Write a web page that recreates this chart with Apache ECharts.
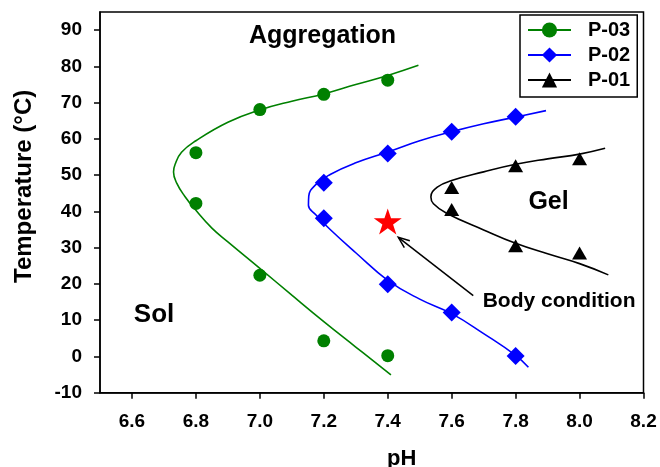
<!DOCTYPE html>
<html><head><meta charset="utf-8">
<script src="https://cdn.jsdelivr.net/npm/echarts@6/dist/echarts.min.js"></script>
<style>html,body{margin:0;padding:0;background:#fff}#c{width:660px;height:467px}</style>
</head><body><div id="c"></div>
<script>
// ---- data ----
const xTicks = [6.6, 6.8, 7.0, 7.2, 7.4, 7.6, 7.8, 8.0, 8.2];
const yTicks = [-10, 0, 10, 20, 30, 40, 50, 60, 70, 80, 90];

// measured points [pH, T]
const p03Points = [[6.8, 56.2], [6.8, 42.2], [7.0, 68.1], [7.2, 72.3], [7.4, 76.2], [7.0, 22.4], [7.2, 4.3], [7.4, 0.2]];
const p02Points = [[7.2, 47.9], [7.2, 38.1], [7.4, 56.0], [7.6, 62.0], [7.8, 66.1], [7.4, 19.9], [7.6, 12.1], [7.8, 0.1]];
const p01Points = [[7.6, 46.6], [7.6, 40.5], [7.8, 52.6], [8.0, 54.5], [7.8, 30.5], [8.0, 28.5]];

// fitted boundary curves [pH, T]
const p03Curve = [[7.496, 80.3], [7.4, 77.5], [7.3, 75.0], [7.2, 72.4], [7.1, 70.4], [7.0, 68.0], [6.9, 64.6], [6.8, 59.5], [6.755, 56.3], [6.735, 53.0], [6.73, 50.9], [6.74, 47.8], [6.765, 44.2], [6.8, 40.3], [6.85, 35.4], [6.9, 31.6], [7.0, 24.3], [7.1, 16.9], [7.2, 9.6], [7.3, 2.6], [7.41, -5.1]];
const p02Curve = [[7.895, 67.8], [7.8, 66.0], [7.7, 64.2], [7.6, 62.0], [7.5, 59.5], [7.4, 56.4], [7.3, 53.4], [7.22, 50.2], [7.175, 47.4], [7.153, 44.2], [7.152, 41.7], [7.175, 39.1], [7.22, 35.0], [7.3, 28.6], [7.4, 21.0], [7.5, 15.8], [7.6, 11.8], [7.7, 6.3], [7.8, 0.3], [7.84, -3.0]];
const p01Curve = [[8.08, 57.4], [8.0, 55.8], [7.9, 54.5], [7.8, 53.0], [7.7, 50.9], [7.6, 48.5], [7.555, 46.7], [7.535, 44.0], [7.543, 42.1], [7.584, 39.5], [7.7, 34.9], [7.8, 31.2], [7.9, 28.3], [8.0, 25.6], [8.09, 22.5]];

const bodyCondition = [[7.4, 37.25]];
const arrow = [[7.6675, 16.75, 7.433, 32.85]];   // from [pH,T] to [pH,T]
const annotationTexts = ['Aggregation', 'Sol', 'Gel', 'Body condition'];
const annotationAt = [[7.196, 88.4], [6.669, 11.6], [7.903, 42.6], [7.936, 15.3]];

// ---- chart ----
const FONT = "'Liberation Sans', Arial, sans-serif";
const annSizes = [25, 26, 25, 21];
const starPath = 'path://M50 0 L61.23 34.55 L97.55 34.55 L68.16 55.9 L79.39 90.45 L50 69.1 L20.61 90.45 L31.84 55.9 L2.45 34.55 L38.77 34.55 Z';

const chart = echarts.init(document.getElementById('c'), null, {renderer: 'canvas'});

function curveSeries(name, data, color, symbol) {
  return {
    name, type: 'line', data, smooth: 0.45, symbol, showSymbol: false,
    lineStyle: {color, width: 1.6}, itemStyle: {color, opacity: 1}, z: 2, silent: true
  };
}
function pointSeries(name, data, color, symbol, size) {
  return {
    name, type: 'scatter', data, symbol, symbolSize: size,
    itemStyle: {color, opacity: 1}, z: 3, silent: true
  };
}

chart.setOption({
  animation: false,
  textStyle: {fontFamily: FONT},
  grid: {left: 100, right: 16.5, top: 12, bottom: 74.3, outerBoundsMode: 'none', containLabel: false,
         show: true, borderColor: '#000', borderWidth: 1.5, backgroundColor: 'transparent'},
  legend: {
    data: ['P-03', 'P-02', 'P-01'],
    orient: 'vertical', left: 520, top: 15,
    itemWidth: 43, itemHeight: 19, itemGap: 5,
    padding: [5, 7, 7, 7],
    borderColor: '#000', borderWidth: 1.5, backgroundColor: '#fff',
    textStyle: {fontFamily: FONT, fontWeight: 'bold', fontSize: 20, color: '#000', lineHeight: 20, padding: [0, 0, 0, 12]},
    selectedMode: false
  },
  xAxis: {
    type: 'value', min: 6.5, max: 8.2,
    name: 'pH', nameLocation: 'middle', nameGap: 55,
    nameTextStyle: {fontFamily: FONT, fontWeight: 'bold', fontSize: 22, color: '#000', padding: [0, 0, 0, 60]},
    axisLine: {show: true, onZero: false, lineStyle: {color: '#000', width: 1.5}},
    axisTick: {show: true, inside: false, length: 6, customValues: xTicks, lineStyle: {color: '#000', width: 1.5}},
    axisLabel: {customValues: xTicks, margin: 20, fontFamily: FONT, fontWeight: 'bold', fontSize: 19, color: '#000', formatter: v => Number(v).toFixed(1)},
    splitLine: {show: false}
  },
  yAxis: {
    type: 'value', min: -10, max: 95, interval: 10,
    name: 'Temperature (\u00B0C)', nameLocation: 'middle', nameGap: 64, nameRotate: 90,
    nameTextStyle: {fontFamily: FONT, fontWeight: 'bold', fontSize: 24, color: '#000', padding: [0, 0, 0, 32]},
    axisLine: {show: true, onZero: false, lineStyle: {color: '#000', width: 1.5}},
    axisTick: {show: true, inside: false, length: 6, customValues: yTicks, lineStyle: {color: '#000', width: 1.5}},
    axisLabel: {customValues: yTicks, margin: 18, fontFamily: FONT, fontWeight: 'bold', fontSize: 19, color: '#000', formatter: v => (v > 90 ? '' : String(v))},
    splitLine: {show: false}
  },
  series: [
    curveSeries('P-03', p03Curve, '#008000', 'circle'),
    curveSeries('P-02', p02Curve, '#0000FF', 'diamond'),
    curveSeries('P-01', p01Curve, '#000000', 'triangle'),
    pointSeries('P-03', p03Points, '#008000', 'circle', 13),
    pointSeries('P-02', p02Points, '#0000FF', 'diamond', 18),
    pointSeries('P-01', p01Points, '#000000', 'triangle', [15, 13]),
    {
      name: 'body', type: 'scatter', data: bodyCondition, symbol: starPath, symbolSize: [28, 26],
      itemStyle: {color: '#FF0000', opacity: 1}, z: 4, silent: true
    },
    {
      name: 'arrow', type: 'custom', data: arrow, silent: true, z: 4,
      encode: {x: [0, 2], y: [1, 3]},
      renderItem: function (params, api) {
        const a = api.coord([api.value(0), api.value(1)]);
        const b = api.coord([api.value(2), api.value(3)]);
        const ang = Math.atan2(b[1] - a[1], b[0] - a[0]);
        const L = 12, w = 0.38;
        const h1 = [b[0] - L * Math.cos(ang - w), b[1] - L * Math.sin(ang - w)];
        const h2 = [b[0] - L * Math.cos(ang + w), b[1] - L * Math.sin(ang + w)];
        return {
          type: 'group', children: [
            {type: 'line', shape: {x1: a[0], y1: a[1], x2: b[0], y2: b[1]}, style: {stroke: '#000', lineWidth: 1.5}},
            {type: 'polyline', shape: {points: [h1, b, h2]}, style: {stroke: '#000', lineWidth: 1.5, fill: null}}
          ]
        };
      }
    },
    {
      name: 'annotations', type: 'scatter', silent: true, z: 5,
      symbolSize: 1, itemStyle: {color: 'rgba(0,0,0,0)', opacity: 1},
      data: annotationTexts.map((t, i) => ({
        name: t, value: annotationAt[i],
        label: {show: true, position: 'inside', formatter: '{b}', color: '#000', opacity: 1, fontFamily: FONT, fontWeight: 'bold', fontSize: annSizes[i]}
      }))
    }
  ]
});
</script>
</body></html>
